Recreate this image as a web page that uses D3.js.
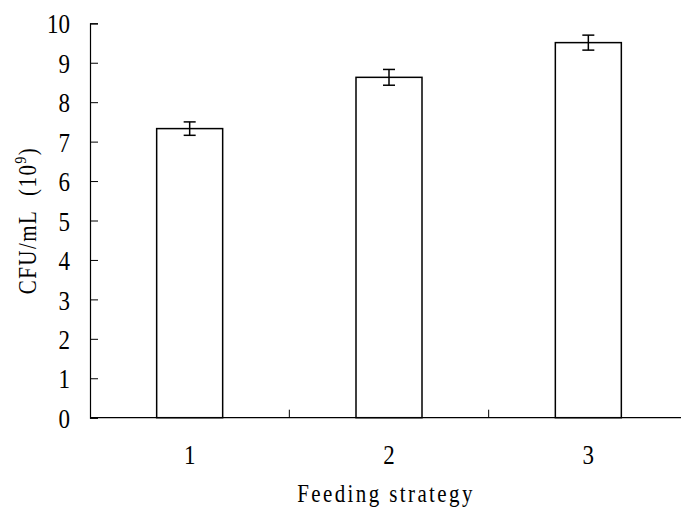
<!DOCTYPE html>
<html>
<head>
<meta charset="utf-8">
<script src="https://cdn.jsdelivr.net/npm/d3@7"></script>
<style>
  body { margin: 0; background: #fff; }
  svg text { font-family: 'Liberation Serif', 'Times New Roman', Times, 'DejaVu Serif', serif !important; fill: #000; }
</style>
</head>
<body>
<div id="chart"></div>
<script>
// data
const strategies = ['1', '2', '3'];
const cfu = [7.33, 8.63, 9.51];
const cfuErr = [0.17, 0.2, 0.19];
const yTicks = [0, 1, 2, 3, 4, 5, 6, 7, 8, 9, 10];

const width = 681, height = 507;
const margin = { top: 23, right: -7, bottom: 89, left: 90 };
const serif = "'Liberation Serif', 'Times New Roman', Times, 'DejaVu Serif', serif";

const svg = d3.select('#chart').append('svg')
  .attr('width', width)
  .attr('height', height)
  .attr('font-family', serif);

const x = d3.scaleBand()
  .domain(strategies)
  .range([margin.left, width - margin.right])
  .paddingInner(0)
  .paddingOuter(0);

const y = d3.scaleLinear()
  .domain([0, 10])
  .range([height - margin.bottom - 0.3, margin.top + 0.3]);

const barW = 66;
const rows = strategies.map((s, i) => ({ s, v: cfu[i], e: cfuErr[i] }));

// bars
svg.selectAll('rect.bar')
  .data(rows)
  .enter()
  .append('rect')
  .attr('class', 'bar')
  .attr('x', d => x(d.s) + x.bandwidth() / 2 - barW / 2)
  .attr('y', d => y(d.v))
  .attr('width', barW)
  .attr('height', d => y(0) - y(d.v))
  .attr('fill', '#fff')
  .attr('stroke', '#000')
  .attr('stroke-width', 1.5);

// error bars
const eb = svg.selectAll('g.err')
  .data(rows)
  .enter()
  .append('g')
  .attr('class', 'err')
  .attr('stroke', '#000')
  .attr('stroke-width', 1.5);

eb.append('line')
  .attr('x1', d => x(d.s) + x.bandwidth() / 2)
  .attr('x2', d => x(d.s) + x.bandwidth() / 2)
  .attr('y1', d => y(d.v + d.e))
  .attr('y2', d => y(d.v - d.e));

[1, -1].forEach(sign => {
  eb.append('line')
    .attr('x1', d => x(d.s) + x.bandwidth() / 2 - 6)
    .attr('x2', d => x(d.s) + x.bandwidth() / 2 + 6)
    .attr('y1', d => y(d.v + sign * d.e))
    .attr('y2', d => y(d.v + sign * d.e));
});

// y axis
const yAxis = svg.append('g')
  .attr('transform', `translate(${margin.left},0)`)
  .call(d3.axisLeft(y).tickValues(yTicks).tickSize(-8).tickPadding(20).tickFormat(d3.format('d')));
yAxis.attr('font-family', serif);
yAxis.select('.domain').attr('stroke', '#000').attr('stroke-width', 1.2);
yAxis.selectAll('.tick line').attr('stroke', '#000').attr('stroke-width', 1);
yAxis.selectAll('.tick text')
  .style('font-size', '23px')
  .attr('dy', '0.35em')
  .attr('transform', 'scale(1,1.2)')
  .attr('y', function () { return 0; })
  .attr('fill', '#000');

// x axis with ticks between categories
const xAxis = svg.append('g')
  .attr('transform', `translate(0,${y(0)})`);
xAxis.append('line')
  .attr('x1', margin.left).attr('x2', width)
  .attr('stroke', '#000').attr('stroke-width', 1.2);
xAxis.selectAll('line.sep')
  .data(strategies.slice(1))
  .enter()
  .append('line')
  .attr('class', 'sep')
  .attr('x1', d => x(d)).attr('x2', d => x(d))
  .attr('y1', 0).attr('y2', -8)
  .attr('stroke', '#000').attr('stroke-width', 1);
xAxis.selectAll('text')
  .data(strategies)
  .enter()
  .append('text')
  .attr('transform', d => `translate(${x(d) + x.bandwidth() / 2},46) scale(1,1.2)`)
  .attr('text-anchor', 'middle')
  .style('font-size', '23px')
  .text(d => d);

// axis titles
svg.append('text')
  .attr('transform', 'translate(386,502) scale(1,1.15)')
  .attr('text-anchor', 'middle')
  .style('font-size', '21px')
  .style('letter-spacing', '2.4px')
  .text('Feeding strategy');

const yt = svg.append('text')
  .attr('transform', `translate(36,${(y(0) + y(10)) / 2}) rotate(-90) scale(1,1.15)`)
  .attr('text-anchor', 'middle')
  .style('font-size', '21px')
  .style('letter-spacing', '1.5px');
yt.append('tspan').text('CFU/mL\u00a0\u00a0(10');
yt.append('tspan').attr('dy', -9).style('font-size', '14px').text('9');
yt.append('tspan').attr('dy', 9).text(')');
</script>
</body>
</html>
